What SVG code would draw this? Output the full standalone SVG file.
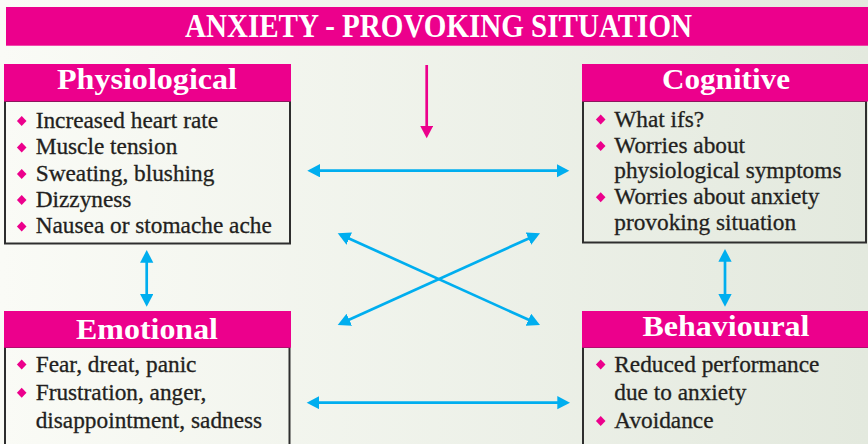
<svg xmlns="http://www.w3.org/2000/svg" width="868" height="444" viewBox="0 0 868 444">
  <defs>
    <linearGradient id="bg" x1="0" y1="0" x2="1" y2="0">
      <stop offset="0" stop-color="#fafbf6"/>
      <stop offset="1" stop-color="#e3e9de"/>
    </linearGradient>
    <path id="dot" d="M0,-5 L4.8,0 L0,5 L-4.8,0 Z" fill="#ec008c"/>
    <marker id="headBlue" markerUnits="userSpaceOnUse" markerWidth="14" markerHeight="14" refX="7" refY="6.65" orient="auto-start-reverse">
      <path d="M0,0 L12.7,6.65 L0,13.3 Z" fill="#00aeef"/>
    </marker>
    <marker id="headPink" markerUnits="userSpaceOnUse" markerWidth="14" markerHeight="14" refX="7" refY="6.65" orient="auto">
      <path d="M0,0 L12.7,6.65 L0,13.3 Z" fill="#ec008c"/>
    </marker>
  </defs>
  <style>
    .bar { fill: #ec008c; }
    .box { fill: none; stroke: #2e2e2e; stroke-width: 2; }
    .head { font-family: "Liberation Serif", serif; font-weight: bold; font-size: 30px; fill: #ffffff; text-anchor: middle; }
    .item { font-family: "Liberation Serif", serif; font-size: 23.3px; fill: #231f20; stroke: #231f20; stroke-width: 0.3; }
    .blue { stroke: #00aeef; stroke-width: 2.7; fill: none; marker-start: url(#headBlue); marker-end: url(#headBlue); }
    .pink { stroke: #ec008c; stroke-width: 2.7; fill: none; marker-end: url(#headPink); }
  </style>

  <rect width="868" height="444" fill="url(#bg)"/>

  <g id="title">
    <rect class="bar" x="6" y="7" width="862" height="38.7"/>
    <text x="438.5" y="37.3" font-family="Liberation Serif, serif" font-weight="bold" font-size="34.7" fill="#ffffff" text-anchor="middle" textLength="507" lengthAdjust="spacingAndGlyphs">ANXIETY - PROVOKING SITUATION</text>
  </g>

  <g id="physiological">
    <rect class="box" x="5" y="101" width="285" height="142.5"/>
    <rect class="bar" x="4" y="64" width="287" height="37.5"/>
    <text class="head" x="147" y="89.3" textLength="180" lengthAdjust="spacingAndGlyphs">Physiological</text>
    <use href="#dot" x="21.7" y="121"/>
    <use href="#dot" x="21.7" y="147.6"/>
    <use href="#dot" x="21.7" y="174"/>
    <use href="#dot" x="21.7" y="200"/>
    <use href="#dot" x="21.7" y="226.6"/>
    <text class="item" x="35.7" y="127.7">Increased heart rate</text>
    <text class="item" x="35.7" y="154.3">Muscle tension</text>
    <text class="item" x="35.7" y="180.7">Sweating, blushing</text>
    <text class="item" x="35.7" y="206.7">Dizzyness</text>
    <text class="item" x="35.7" y="233.3">Nausea or stomache ache</text>
  </g>

  <g id="cognitive">
    <rect class="box" x="583" y="101" width="283" height="141.5"/>
    <rect class="bar" x="582" y="64" width="286" height="37.5"/>
    <text class="head" x="726" y="89.3" textLength="128" lengthAdjust="spacingAndGlyphs">Cognitive</text>
    <use href="#dot" x="600.7" y="119.5"/>
    <use href="#dot" x="600.7" y="146"/>
    <use href="#dot" x="600.7" y="197.3"/>
    <text class="item" x="614.3" y="126.5">What ifs?</text>
    <text class="item" x="614.3" y="152.7">Worries about</text>
    <text class="item" x="614.3" y="178.3">physiological symptoms</text>
    <text class="item" x="614.3" y="204">Worries about anxiety</text>
    <text class="item" x="614.3" y="230">provoking situation</text>
  </g>

  <g id="emotional">
    <rect class="box" x="5" y="347" width="284.5" height="110"/>
    <rect class="bar" x="4" y="311" width="287" height="36.7"/>
    <text class="head" x="147" y="339.3" textLength="142" lengthAdjust="spacingAndGlyphs">Emotional</text>
    <use href="#dot" x="21.7" y="364.5"/>
    <use href="#dot" x="21.7" y="392.8"/>
    <text class="item" x="35.7" y="371.7">Fear, dreat, panic</text>
    <text class="item" x="35.7" y="400">Frustration, anger,</text>
    <text class="item" x="35.7" y="428.3">disappointment, sadness</text>
  </g>

  <g id="behavioural">
    <rect class="box" x="583" y="347" width="290" height="110"/>
    <rect class="bar" x="582" y="311" width="286" height="36.7"/>
    <text class="head" x="726" y="336" textLength="167" lengthAdjust="spacingAndGlyphs">Behavioural</text>
    <use href="#dot" x="600.7" y="364.5"/>
    <use href="#dot" x="600.7" y="421"/>
    <text class="item" x="614.3" y="371.7">Reduced performance</text>
    <text class="item" x="614.3" y="400">due to anxiety</text>
    <text class="item" x="614.3" y="427.7">Avoidance</text>
  </g>

  <g id="connectors">
    <line class="pink" x1="426.7" y1="65" x2="426.7" y2="132.6"/>
    <line class="blue" x1="313" y1="170.7" x2="563.6" y2="170.7"/>
    <line class="blue" x1="312.4" y1="402.7" x2="564.3" y2="402.7"/>
    <line class="blue" x1="146.7" y1="255.7" x2="146.7" y2="301"/>
    <line class="blue" x1="725" y1="254.7" x2="725" y2="301"/>
    <line class="blue" x1="342.9" y1="235.7" x2="534.8" y2="322.6"/>
    <line class="blue" x1="534.8" y1="235.7" x2="342.9" y2="322.6"/>
  </g>
</svg>
